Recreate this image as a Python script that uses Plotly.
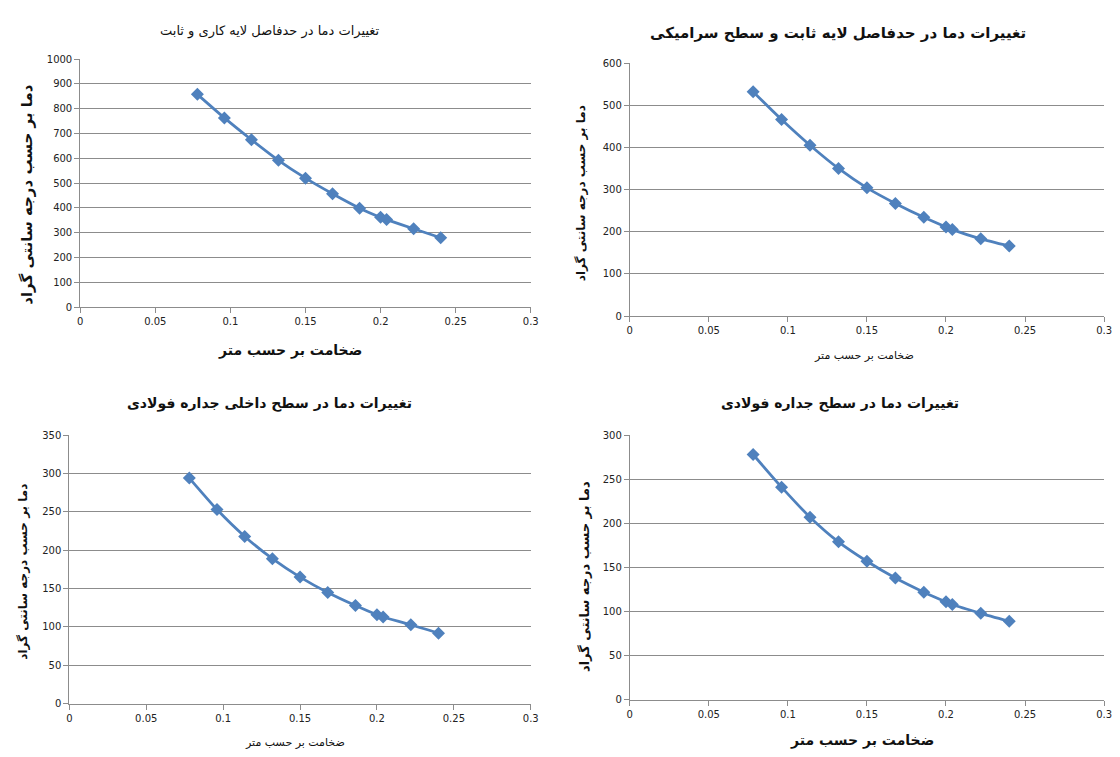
import plotly.graph_objects as go

# Wall thickness (m) at each measurement point
thickness = [0.078, 0.096, 0.114, 0.132, 0.150, 0.168, 0.186, 0.200, 0.204, 0.222, 0.240]

# Temperatures (°C) at each interface
temp_work_fixed = [858, 763, 675, 592, 520, 457, 399, 362, 353, 316, 280]
temp_fixed_ceramic = [532, 466, 405, 350, 304, 267, 234, 211, 205, 183, 166]
temp_steel_inner = [294, 253, 218, 189, 165, 145, 128, 116, 113, 103, 92]
temp_steel_surface = [278, 241, 207, 179, 157, 138, 122, 111, 108, 98, 89]

titles = [
    "تغییرات دما در حدفاصل لایه کاری و ثابت",
    "تغییرات دما در حدفاصل لایه ثابت و سطح سرامیکی",
    "تغییرات دما در سطح داخلی جداره فولادی",
    "تغییرات دما در سطح جداره فولادی",
]
x_title = "ضخامت بر حسب متر"
y_title = "دما بر حسب درجه سانتی گراد"

W, H = 1120, 757
FONT = "DejaVu Sans"
BLUE = "#4F81BD"
GRID = "#8C8C8C"


def px(x):
    return x / W


def py(y):
    return 1 - y / H


# panel boxes in pixels: (left, right, top, bottom), y max, y step
panels = [
    ("x", "y", (78, 533, 54, 306), 1000, 100, temp_work_fixed),
    ("x2", "y2", (633, 1112, 58, 315), 600, 100, temp_fixed_ceramic),
    ("x3", "y3", (67, 533, 436, 709), 350, 50, temp_steel_inner),
    ("x4", "y4", (633, 1112, 436, 705), 300, 50, temp_steel_surface),
]

fig = go.Figure()
layout = {}
for i, (xa, ya, (l, r, t, b), ymax, ystep, temps) in enumerate(panels):
    fig.add_trace(go.Scatter(
        x=thickness, y=temps, xaxis=xa, yaxis=ya,
        mode="lines+markers",
        line=dict(color=BLUE, width=2.75, shape="spline", smoothing=0.6),
        marker=dict(symbol="diamond", size=10, color=BLUE),
        showlegend=False, hoverinfo="x+y",
    ))
    sfx = "" if i == 0 else str(i + 1)
    layout["xaxis" + sfx] = dict(
        domain=[px(l), px(r)], anchor=ya, range=[0, 0.3], dtick=0.05, tick0=0,
        showgrid=False, zeroline=False, showline=True, linecolor=GRID, linewidth=1,
        ticks="outside", ticklen=5, tickcolor=GRID, tickwidth=1,
        tickfont=dict(family=FONT, size=10, color="#222222"),
        fixedrange=True,
    )
    layout["yaxis" + sfx] = dict(
        domain=[py(b), py(t)], anchor=xa, range=[0, ymax], dtick=ystep, tick0=0,
        showgrid=True, gridcolor=GRID, gridwidth=1, zeroline=False,
        showline=True, linecolor=GRID, linewidth=1,
        ticks="outside", ticklen=5, tickcolor=GRID, tickwidth=1,
        tickfont=dict(family=FONT, size=10, color="#222222"),
        fixedrange=True,
    )

annotations = []


def text(s, x, y, size, bold=False, angle=0):
    annotations.append(dict(
        text=f"<b>{s}</b>" if bold else s,
        x=px(x), y=py(y), xref="paper", yref="paper",
        xanchor="center", yanchor="middle", showarrow=False, textangle=angle,
        font=dict(family=FONT, size=size, color="#111111"),
    ))


# chart titles
text(titles[0], 270, 25, 13)
text(titles[1], 843, 27, 15, bold=True)
text(titles[2], 269, 404, 14, bold=True)
text(titles[3], 845, 404, 14, bold=True)

# x-axis titles
text(x_title, 290, 350, 14, bold=True)
text(x_title, 870, 355, 11)
text(x_title, 295, 748, 11)
text(x_title, 868, 746, 14, bold=True)

# y-axis titles
text(y_title, 24, 192, 15, bold=True, angle=-90)
text(y_title, 584, 190, 12, bold=True, angle=-90)
text(y_title, 20, 575, 12, bold=True, angle=-90)
text(y_title, 588, 580, 13, bold=True, angle=-90)

fig.update_layout(
    width=W, height=H,
    margin=dict(l=0, r=0, t=0, b=0),
    paper_bgcolor="white", plot_bgcolor="white",
    annotations=annotations,
    **layout,
)

fig.write_html("out.html")
